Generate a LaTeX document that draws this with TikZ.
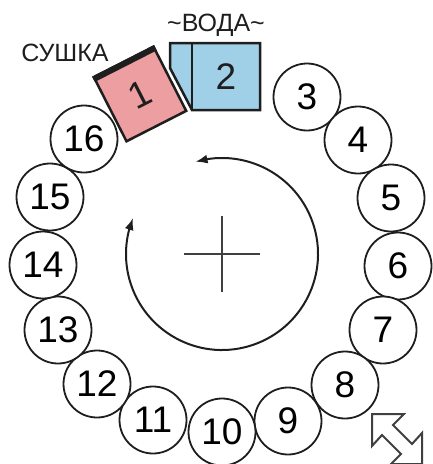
\documentclass[tikz,border=0pt]{standalone}
\usepackage{fontspec}
\setmainfont{Liberation Sans}
\usetikzlibrary{arrows.meta,calc,bending}
\definecolor{pinkbox}{RGB}{236,158,160}
\definecolor{bluebox}{RGB}{160,207,232}
\definecolor{ink}{RGB}{30,30,30}
\begin{document}
\begin{tikzpicture}[x=1pt,y=1pt,
  seat/.style={circle,draw=ink,fill=white,line width=1.8pt,minimum size=67pt,inner sep=0pt,font=\fontsize{37}{37}\selectfont},
  bigtext/.style={font=\fontsize{37}{37}\selectfont,text=ink},
  lbl/.style={font=\fontsize{25}{25}\selectfont,text=ink,inner sep=0pt},
  boxline/.style={draw=ink,line width=2.5pt,line join=miter},
  tip/.style={Latex[length=12pt,width=9pt,flex]}]
\useasboundingbox (0,0) rectangle (433,-464);
\clip (0,0) rectangle (433,-464);

% seats
\foreach \n/\x/\y in {3/307/97,4/358/140,5/391/198,6/398/266,7/383/330,8/345/385,9/288/421,10/222/432,11/153/420,12/97/384,13/58/330,14/43/265,15/50/197,16/84/139}
  \node[seat] (c\n) at (\x,-\y) {\n};

% station 2 (water)
\coordinate (w1) at (170,-43);
\coordinate (w2) at (260,-43);
\coordinate (w3) at (260,-110);
\coordinate (w4) at (192,-110);
\coordinate (w5) at (170,-68);
\coordinate (wt) at (192,-43);
\draw[boxline,fill=bluebox] (w1) -- (w2) -- (w3) -- (w4) -- (w5) -- cycle;
\draw[draw=ink,line width=2pt] (wt) -- (w4);
\node[bigtext] (n2) at (226,-77) {2};

% station 1 (dry)
\node[boxline,fill=pinkbox,rotate=27,minimum width=67pt,minimum height=72pt,inner sep=0pt,bigtext] (b1) at (140,-94) {1};
\draw[draw=ink,line width=6pt] ($(b1.north west)!3pt!(b1.south west)$) -- ($(b1.north east)!3pt!(b1.south east)$);

% labels
\node[lbl] (dry) at (65,-53) {СУШКА};
\node[lbl] (water) at (216,-25) {\textasciitilde ВОДА\textasciitilde};

% rotation circle
\coordinate (ctr) at (222,-254);
\draw[draw=ink,line width=2pt,{Latex[length=12pt,width=9pt,flex]}-{Latex[length=12pt,width=9pt,flex]}]
  ($(ctr)+(106:96)$) arc[start angle=106,end angle=-202,radius=96];
\coordinate (ch1) at (184,-254);
\coordinate (ch2) at (260,-254);
\coordinate (cv1) at (222,-216);
\coordinate (cv2) at (222,-292);
\draw[draw=ink!85,line width=2pt] (ch1) -- (ch2) (cv1) -- (cv2);

% double arrow icon
\draw[draw=ink!85,fill=white,line width=2pt,line join=miter]
  (372,-414) -- (404,-414) -- (393,-425) -- (412,-444) -- (422,-433) -- (422,-464)
  -- (391,-464) -- (401,-454) -- (382,-435) -- (372,-446) -- cycle;
\end{tikzpicture}
\end{document}
